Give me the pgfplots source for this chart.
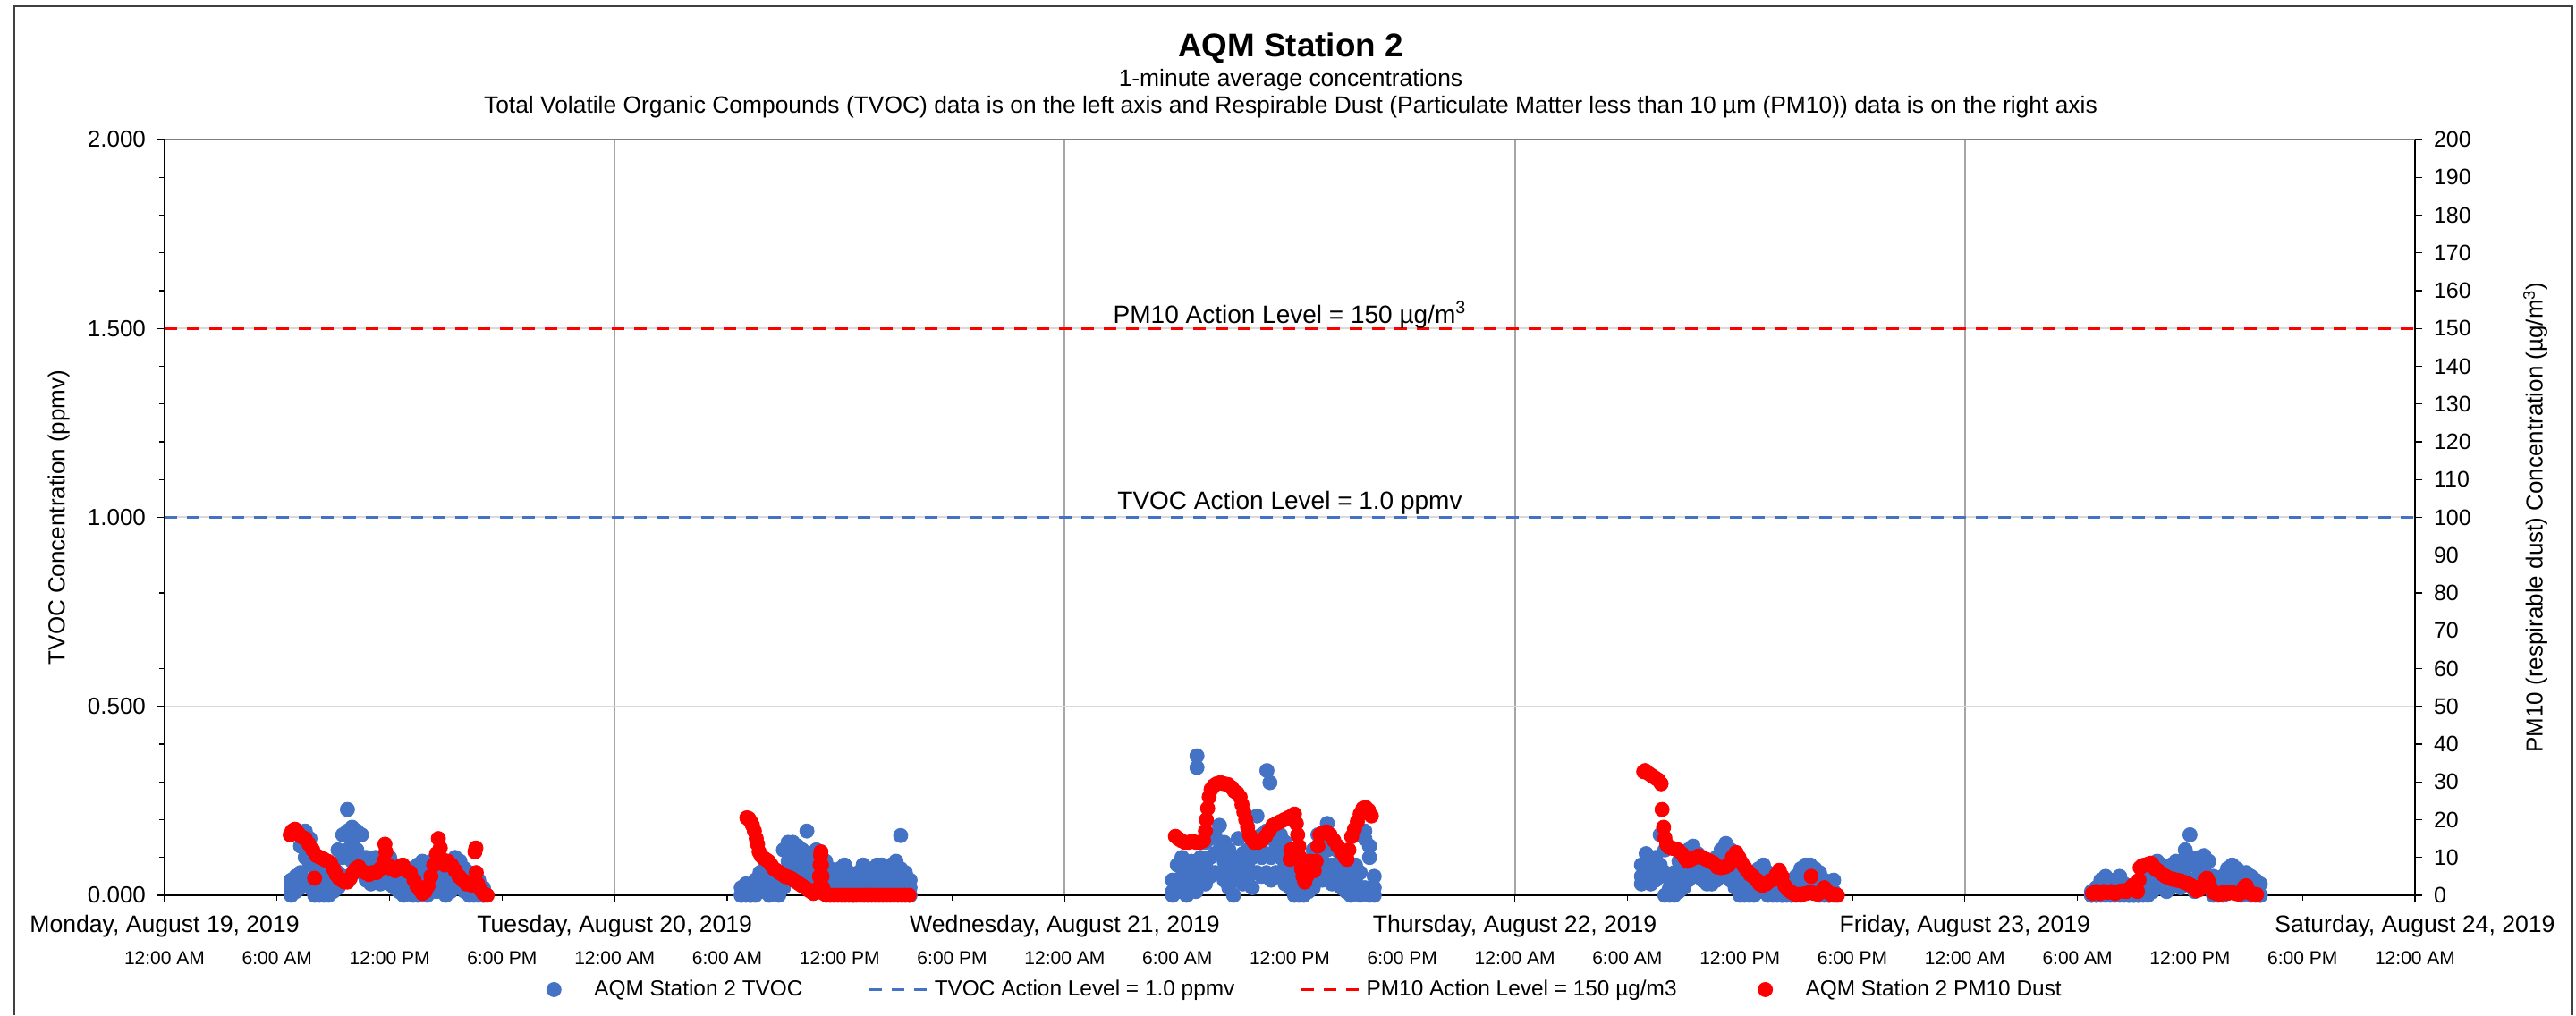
\documentclass[border=0pt]{standalone}
\usepackage{fontspec}
\setmainfont{Liberation Sans}
\usepackage{pgfplots}
\pgfplotsset{compat=1.18}
\usepackage{pgfplotstable}
\definecolor{tvoc}{HTML}{4472C4}
\definecolor{pm}{HTML}{FF0000}
\definecolor{vgrid}{HTML}{A6A6A6}
\definecolor{hgrid}{HTML}{D9D9D9}
\definecolor{framec}{HTML}{404040}

\pgfplotstableread{
h a b c
6.75 0.04 0.02 0.00
7.00 0.05 0.03 0.01
7.25 0.13 0.06 0.02
7.50 0.17 0.10 0.04
7.75 0.15 0.08 0.02
8.00 0.10 0.05 0.00
8.25 0.06 0.02 0.00
8.50 0.04 0.01 0.00
8.75 0.05 0.02 0.00
9.00 0.08 0.03 0.01
9.25 0.12 0.06 0.02
9.50 0.16 0.10 0.05
9.75 0.227 0.17 0.12
10.00 0.18 0.14 0.09
10.25 0.17 0.12 0.07
10.50 0.16 0.10 0.06
10.75 0.10 0.07 0.04
11.00 0.09 0.06 0.03
11.25 0.10 0.07 0.05
11.50 0.08 0.05 0.03
11.75 0.09 0.06 0.04
12.00 0.10 0.07 0.03
12.25 0.08 0.05 0.02
12.50 0.07 0.04 0.01
12.75 0.06 0.03 0.00
13.00 0.07 0.03 0.01
13.25 0.06 0.02 0.00
13.50 0.08 0.04 0.00
13.75 0.09 0.05 0.01
14.00 0.07 0.03 0.00
14.25 0.09 0.05 0.02
14.50 0.08 0.04 0.01
14.75 0.09 0.05 0.02
15.00 0.06 0.03 0.00
15.25 0.08 0.04 0.01
15.50 0.10 0.06 0.02
15.75 0.09 0.05 0.03
16.00 0.07 0.04 0.01
16.25 0.06 0.03 0.00
16.50 0.05 0.02 0.00
16.75 0.04 0.01 0.00
17.00 0.02 0.00 0.00
30.75 0.02 0.00 0.00
31.00 0.03 0.01 0.00
31.25 0.02 0.00 0.00
31.50 0.04 0.02 0.00
31.75 0.06 0.03 0.01
32.00 0.07 0.04 0.02
32.25 0.05 0.02 0.00
32.50 0.06 0.03 0.01
32.75 0.04 0.01 0.00
33.00 0.12 0.06 0.02
33.25 0.14 0.09 0.04
33.50 0.14 0.12 0.07
33.75 0.13 0.10 0.06
34.00 0.12 0.09 0.05
34.25 0.17 0.10 0.05
34.50 0.11 0.07 0.03
34.75 0.12 0.08 0.04
35.00 0.10 0.06 0.03
35.25 0.09 0.05 0.02
35.50 0.07 0.04 0.01
35.75 0.06 0.03 0.01
36.00 0.07 0.04 0.02
36.25 0.08 0.05 0.02
36.50 0.06 0.03 0.01
36.75 0.05 0.02 0.00
37.00 0.06 0.03 0.01
37.25 0.08 0.05 0.02
37.50 0.07 0.04 0.01
37.75 0.06 0.03 0.01
38.00 0.08 0.05 0.02
38.25 0.08 0.06 0.03
38.50 0.07 0.05 0.02
38.75 0.08 0.04 0.02
39.00 0.09 0.06 0.03
39.25 0.158 0.07 0.04
39.50 0.06 0.03 0.01
39.75 0.04 0.02 0.00
53.75 0.04 0.01 0.00
54.00 0.08 0.04 0.01
54.25 0.10 0.05 0.02
54.50 0.07 0.03 0.00
54.75 0.09 0.05 0.02
55.00 0.08 0.04 0.01
55.25 0.10 0.06 0.03
55.50 0.14 0.08 0.03
55.75 0.15 0.10 0.05
56.00 0.16 0.11 0.06
56.25 0.185 0.12 0.06
56.50 0.14 0.09 0.04
56.75 0.12 0.06 0.02
57.00 0.09 0.04 0.00
57.25 0.15 0.10 0.05
57.50 0.11 0.07 0.03
57.75 0.12 0.08 0.04
58.00 0.10 0.06 0.02
58.25 0.21 0.12 0.06
58.50 0.16 0.10 0.05
58.75 0.17 0.11 0.06
59.00 0.15 0.10 0.04
59.25 0.18 0.12 0.06
59.50 0.16 0.10 0.05
59.75 0.14 0.08 0.03
60.00 0.12 0.06 0.02
60.25 0.10 0.04 0.00
60.50 0.08 0.03 0.00
60.75 0.06 0.02 0.00
61.00 0.09 0.04 0.01
61.25 0.12 0.06 0.02
61.50 0.16 0.10 0.05
61.75 0.15 0.09 0.04
62.00 0.19 0.12 0.06
62.25 0.14 0.08 0.03
62.50 0.12 0.07 0.03
62.75 0.10 0.05 0.02
63.00 0.09 0.04 0.01
63.25 0.07 0.03 0.00
63.50 0.08 0.04 0.01
63.75 0.06 0.02 0.00
64.00 0.17 0.15 0.02
64.25 0.13 0.10 0.00
64.50 0.05 0.02 0.00
78.75 0.08 0.05 0.03
79.00 0.11 0.07 0.04
79.25 0.09 0.06 0.03
79.50 0.10 0.07 0.04
79.75 0.16 0.08 0.05
80.00 0.12 0.06 0.00
80.25 0.05 0.02 0.00
80.50 0.06 0.03 0.00
80.75 0.09 0.05 0.01
81.00 0.10 0.06 0.02
81.25 0.12 0.08 0.04
81.50 0.13 0.09 0.05
81.75 0.11 0.08 0.05
82.00 0.10 0.07 0.04
82.25 0.09 0.06 0.03
82.50 0.08 0.05 0.03
82.75 0.10 0.07 0.04
83.00 0.12 0.08 0.05
83.25 0.137 0.10 0.06
83.50 0.12 0.08 0.04
83.75 0.09 0.05 0.02
84.00 0.07 0.03 0.00
84.25 0.06 0.02 0.00
84.50 0.05 0.01 0.00
84.75 0.06 0.02 0.00
85.00 0.07 0.03 0.01
85.25 0.08 0.04 0.01
85.50 0.06 0.02 0.00
85.75 0.05 0.01 0.00
86.00 0.04 0.01 0.00
86.25 0.03 0.00 0.00
86.50 0.04 0.01 0.00
86.75 0.03 0.00 0.00
87.00 0.05 0.02 0.00
87.25 0.07 0.03 0.00
87.50 0.08 0.05 0.02
87.75 0.08 0.05 0.01
88.00 0.07 0.04 0.01
88.25 0.06 0.02 0.00
88.50 0.04 0.01 0.00
88.75 0.03 0.00 0.00
89.00 0.04 0.01 0.00
102.75 0.01 0.00 0.00
103.00 0.02 0.00 0.00
103.25 0.04 0.01 0.00
103.50 0.05 0.02 0.00
103.75 0.04 0.01 0.00
104.00 0.03 0.01 0.00
104.25 0.05 0.02 0.00
104.50 0.03 0.01 0.00
104.75 0.02 0.00 0.00
105.00 0.01 0.00 0.00
105.25 0.02 0.00 0.00
105.50 0.04 0.01 0.00
105.75 0.06 0.02 0.00
106.00 0.08 0.04 0.01
106.25 0.09 0.05 0.02
106.50 0.08 0.05 0.02
106.75 0.07 0.04 0.01
107.00 0.08 0.05 0.02
107.25 0.09 0.06 0.03
107.50 0.09 0.05 0.02
107.75 0.12 0.07 0.03
108.00 0.16 0.10 0.04
108.25 0.08 0.04 0.01
108.50 0.10 0.06 0.02
108.75 0.105 0.07 0.03
109.00 0.09 0.05 0.02
109.25 0.05 0.02 0.00
109.50 0.04 0.01 0.00
109.75 0.05 0.02 0.00
110.00 0.07 0.04 0.01
110.25 0.08 0.05 0.02
110.50 0.07 0.04 0.01
110.75 0.06 0.03 0.00
111.00 0.06 0.03 0.01
111.25 0.05 0.02 0.00
111.50 0.04 0.01 0.00
111.75 0.03 0.00 0.00
}\tvocdata

\pgfplotstableread{
h a
55.05 0.369
55.05 0.338
58.78 0.330
58.94 0.298
}\tvocout

\pgfplotstableread{
h v
6.70 16
6.80 17
6.95 17.5
7.10 16.5
7.30 15.5
7.50 15
7.70 13.5
7.90 12
8.00 4.5
8.10 10.5
8.30 10
8.50 9.5
8.70 9
8.85 8.5
9.00 7
9.15 5.5
9.30 4.5
9.45 4
9.60 3.5
9.75 3.5
9.90 4.5
10.05 6
10.20 7
10.35 7.5
10.50 6.5
10.70 6
10.90 5.5
11.10 6
11.30 6
11.50 7
11.70 9
11.75 13.5
11.80 11.5
11.90 8
12.10 7
12.30 6.5
12.50 7.5
12.70 8
12.90 6.5
13.10 6
13.30 4
13.45 2.5
13.60 1.5
13.75 0.5
13.90 1
14.05 2.5
14.20 5
14.35 8
14.50 11
14.60 15
14.70 12.5
14.80 9.5
14.95 8
15.10 9
15.30 8
15.50 6.5
15.70 5
15.90 4
16.10 3
16.30 3
16.45 2.5
16.55 11.5
16.60 12.5
16.62 6
16.70 3
16.85 1.5
17.00 0.5
17.20 0
31.05 20.5
31.15 20.3
31.25 19.5
31.35 18.5
31.45 17
31.55 15
31.62 13.5
31.70 11.5
31.80 10.5
31.90 10
32.05 9.5
32.20 9
32.35 8
32.50 7
32.65 6.5
32.80 6
32.95 5.5
33.10 5
33.25 4.8
33.40 4.5
33.55 4
33.70 3.5
33.85 3
34.00 2.5
34.15 2
34.30 1.5
34.45 1
34.60 0.5
34.75 0.8
34.88 2
34.92 5
34.95 8
34.98 10.5
35.00 11.5
35.03 8
35.06 5
35.10 2
35.15 0.5
35.30 0
35.50 0
35.70 0
35.90 0
36.10 0
36.30 0
36.50 0
36.70 0
36.90 0
37.10 0
37.30 0
37.50 0
37.70 0
37.90 0
38.10 0
38.30 0
38.50 0
38.70 0
38.90 0
39.10 0
39.30 0
39.50 0
39.70 0
53.90 15.6
54.05 15
54.20 14.5
54.40 14
54.60 14
54.80 14.3
55.00 14
55.20 14
55.40 14.5
55.50 17
55.55 20
55.62 23
55.70 26
55.80 28
55.95 29
56.10 29.5
56.30 29.8
56.50 29.5
56.70 29.3
56.90 28.5
57.05 27.5
57.20 27
57.35 26
57.45 24
57.55 22
57.65 20
57.75 18
57.85 16
57.95 15
58.10 14
58.30 14
58.50 14.5
58.70 15.5
58.90 17
59.10 18.5
59.30 19
59.50 19.5
59.70 20
59.90 20.5
60.02 9.5
60.05 12
60.10 21
60.25 21.5
60.35 19
60.42 16
60.48 13
60.55 10
60.62 7
60.70 5
60.80 3.5
60.90 5
61.00 8
61.10 9
61.20 7
61.30 6.5
61.40 9
61.50 13
61.60 16
61.75 16.5
61.95 16.8
62.15 16
62.35 14.5
62.55 13
62.75 11.5
62.95 10
63.05 9.5
63.15 12
63.30 15.5
63.45 17.5
63.60 19.5
63.75 21.5
63.90 23
64.05 23.2
64.20 22.5
64.35 21
78.87 32.7
78.95 33
79.05 32.5
79.20 32
79.35 31.5
79.50 31
79.65 30.5
79.80 29.5
79.85 22.7
79.93 18
80.00 15.2
80.10 13.5
80.20 12.8
80.35 12.5
80.50 12.3
80.70 12
80.90 11
81.05 10
81.20 9
81.40 9.5
81.60 10
81.80 10.4
82.00 10
82.20 9.5
82.40 9
82.60 8.5
82.80 7.5
83.00 7.3
83.20 7.5
83.40 8
83.60 10
83.80 11.3
83.95 10
84.10 8.5
84.25 7.5
84.40 6.5
84.55 5.5
84.70 5
84.90 4
85.05 3
85.20 2.6
85.40 3
85.60 3.8
85.80 4.2
85.95 5.5
86.10 6.6
86.25 5
86.40 2.5
86.55 1.5
86.75 0.8
86.95 0.3
87.15 0.2
87.35 0.3
87.55 0.5
87.75 0.8
87.80 5
87.95 0.5
88.15 0.3
88.35 1
88.50 2
88.65 1
88.85 0.3
89.05 0.2
89.20 0
102.80 0.5
103.00 1
103.20 0.5
103.40 1
103.60 0.8
103.80 1
104.00 0.5
104.20 1
104.40 1.2
104.60 1
104.80 1.8
104.95 2.6
105.10 2.5
105.20 1
105.28 4
105.34 7.3
105.45 7.8
105.60 8
105.75 8.2
105.90 8.5
106.00 8
106.15 7
106.30 6.5
106.50 5.7
106.70 5
106.90 4.5
107.10 4.2
107.30 4
107.50 3.8
107.70 3.4
107.90 3
108.05 2.6
108.20 2
108.35 1.2
108.50 1.5
108.65 2.5
108.80 4
108.90 4.5
109.00 3.5
109.10 2
109.25 0.8
109.40 0.5
109.60 0.3
109.80 0.8
110.00 0.5
110.20 0.8
110.40 0.5
110.60 0.3
110.80 0.8
110.90 2.2
111.00 2.5
111.10 1.2
111.25 0.5
111.40 0.3
111.55 0.2
}\pmdata

\pgfplotsset{
  tvocmark/.style={only marks, mark=*, mark size=4pt, color=tvoc, mark options={fill=tvoc, draw=tvoc}},
  pmmark/.style={only marks, mark=*, mark size=4pt, color=pm, mark options={fill=pm, draw=pm}},
  actdash/.style={line width=1.6pt, dash pattern=on 7pt off 5.5pt},
  dotlegend/.style={legend image code/.code={\path[draw=none, fill=none] (0pt,-4pt) rectangle (35pt,4pt); \fill[#1] (13pt,0pt) circle (4pt);}},
}

\begin{document}
\begin{tikzpicture}
\begin{axis}[
  scale only axis, width=1258pt, height=422.5pt,
  at={(0,0)}, anchor=south west,
  xmin=0, xmax=120, ymin=0, ymax=2,
  axis x line*=bottom, axis y line*=left,
  axis line style={black, line width=1pt},
  clip=false,
  /pgf/number format/assume math mode=true,
  xtick={0,24,...,120},
  xticklabels={{Monday, August 19, 2019},{Tuesday, August 20, 2019},{Wednesday, August 21, 2019},{Thursday, August 22, 2019},{Friday, August 23, 2019},{Saturday, August 24, 2019}},
  xticklabel style={anchor=base, yshift=-16.5pt, font=\fontsize{13.3}{16}\selectfont},
  minor x tick num=3,
  extra x ticks={0,6,...,120},
  extra x tick labels={12:00 AM,6:00 AM,12:00 PM,6:00 PM,12:00 AM,6:00 AM,12:00 PM,6:00 PM,12:00 AM,6:00 AM,12:00 PM,6:00 PM,12:00 AM,6:00 AM,12:00 PM,6:00 PM,12:00 AM,6:00 AM,12:00 PM,6:00 PM,12:00 AM},
  extra x tick style={grid=none, major tick length=0pt, xticklabel style={anchor=base, yshift=-22pt, font=\fontsize{10.5}{12}\selectfont}},
  ytick={0,0.5,1,1.5,2},
  minor y tick num=4,
  y tick label style={/pgf/number format/fixed, /pgf/number format/fixed zerofill, /pgf/number format/precision=3, font=\fontsize{13}{15}\selectfont, xshift=-3pt},
  tick align=outside, major tick length=4pt, minor tick length=3pt,
  tick style={black, line width=0.6pt},
  xmajorgrids, ymajorgrids,
  major x grid style={vgrid, line width=1pt},
  major y grid style={hgrid, line width=1pt},
  ylabel={TVOC Concentration (ppmv)},
  ylabel style={at={(axis description cs:-0.047,0.5)}, anchor=center, font=\fontsize{13}{15}\selectfont},
]
\draw[color=gray, line width=1pt] (rel axis cs:0,1) -- (rel axis cs:1,1);
\addplot[tvocmark] table[x=h, y=c] {\tvocdata};
\addplot[tvocmark] table[x=h, y=b] {\tvocdata};
\addplot[tvocmark] table[x=h, y=a] {\tvocdata};
\addplot[tvocmark] table[x=h, y=a] {\tvocout};
\addplot[tvoc, actdash] coordinates {(0,1) (120,1)};
\node[anchor=base, font=\fontsize{14}{16}\selectfont] at (axis cs:60,1) [yshift=4.5pt] {TVOC Action Level = 1.0 ppmv};
\end{axis}
\begin{axis}[
  scale only axis, width=1258pt, height=422.5pt,
  at={(0,0)}, anchor=south west,
  xmin=0, xmax=120, ymin=0, ymax=200,
  axis x line=none, axis y line*=right,
  axis line style={black, line width=1pt},
  clip=false,
  /pgf/number format/assume math mode=true,
  ytick={0,10,...,200},
  y tick label style={font=\fontsize{12.5}{15}\selectfont, xshift=3pt},
  tick align=outside, major tick length=4pt,
  tick style={black, line width=0.6pt},
  ylabel={PM10 (respirable dust) Concentration (µg/m\textsuperscript{3})},
  ylabel style={at={(axis description cs:1.0535,0.5)}, anchor=center, rotate=0, font=\fontsize{13}{15}\selectfont},
  legend columns=4,
  legend style={draw=none, fill=none, at={(axis description cs:0.503,-0.1248)}, anchor=center, font=\fontsize{12.2}{14}\selectfont, nodes={inner sep=0.5pt}, /tikz/every even column/.append style={column sep=36pt}},
  legend image code/.code={\draw[#1] (0pt,0pt) -- (35pt,0pt);},
]
\addlegendimage{dotlegend=tvoc}
\addlegendentry{AQM Station 2 TVOC}
\addlegendimage{tvoc, actdash}
\addlegendentry{TVOC Action Level = 1.0 ppmv}
\addplot[pm, actdash] coordinates {(0,150) (120,150)};
\addlegendentry{PM10 Action Level = 150 µg/m3}
\addplot[pmmark, dotlegend=pm] table[x=h, y=v] {\pmdata};
\addlegendentry{AQM Station 2 PM10 Dust}
\node[anchor=base, font=\fontsize{14}{16}\selectfont] at (axis cs:60,150) [yshift=3pt] {PM10 Action Level = 150 µg/m\textsuperscript{3}};
\end{axis}
\draw[color=framec, line width=1.2pt] (-84pt,-67pt) -- (-84pt,497pt) -- (1345.75pt,497pt) -- (1345.75pt,-67pt);
\node[anchor=base, font=\bfseries\fontsize{18.4}{22}\selectfont] at (629.5pt,468.5pt) {AQM Station 2};
\node[anchor=base, font=\fontsize{13.2}{15}\selectfont] at (629.5pt,452pt) {1-minute average concentrations};
\node[anchor=base, font=\fontsize{13.2}{15}\selectfont] at (629.5pt,437pt) {Total Volatile Organic Compounds (TVOC) data is on the left axis and Respirable Dust (Particulate Matter less than 10 µm (PM10)) data is on the right axis};
\pgfresetboundingbox
\path[use as bounding box] (-92pt,-67pt) rectangle (1348pt,500.5pt);
\end{tikzpicture}
\end{document}
